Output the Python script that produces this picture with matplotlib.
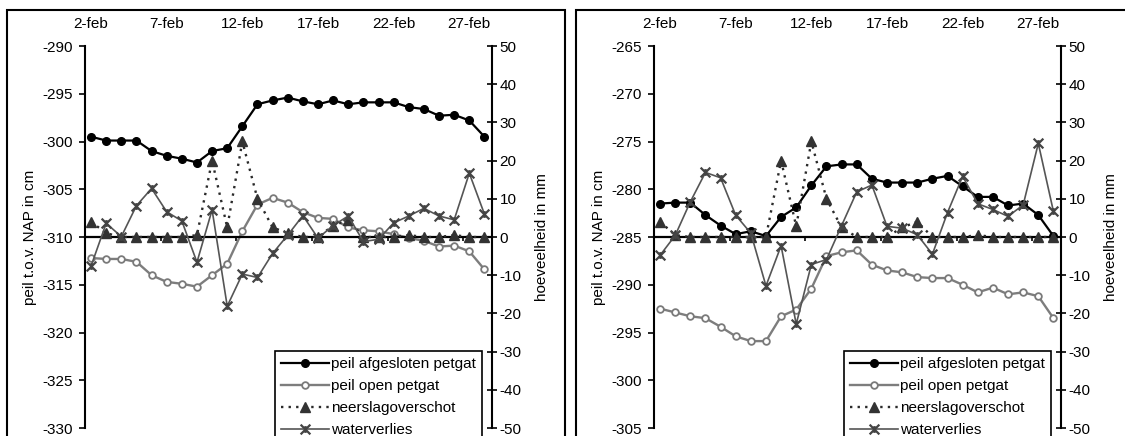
import matplotlib
matplotlib.use('Agg')
import matplotlib.pyplot as plt
from matplotlib.path import Path
from matplotlib.patches import Rectangle

plt.rcParams['font.family'] = ['Liberation Sans', 'DejaVu Sans']
plt.rcParams['font.size'] = 11
plt.rcParams['axes.unicode_minus'] = False

# dagen in februari
days = list(range(2, 29))
date_ticks = [2, 7, 12, 17, 22, 27]
date_labels = ['2-feb', '7-feb', '12-feb', '17-feb', '22-feb', '27-feb']

# linker grafiek (cm en mm)
afgesloten_1 = [-299.5, -299.9, -299.9, -299.9, -301.0, -301.5, -301.8, -302.2, -301.0, -300.7,
                -298.4, -296.1, -295.7, -295.4, -295.8, -296.1, -295.7, -296.1, -295.9, -295.9,
                -295.9, -296.4, -296.6, -297.3, -297.2, -297.8, -299.5]
open_1 = [-312.2, -312.3, -312.3, -312.6, -314.0, -314.7, -314.9, -315.2, -314.0, -312.8,
          -309.4, -306.6, -305.9, -306.4, -307.4, -308.0, -308.1, -309.0, -309.3, -309.4,
          -309.7, -310.1, -310.4, -311.0, -310.9, -311.5, -313.4]
neerslag_1 = [4, 1, 0, 0, 0, 0, 0, 0.5, 20, 2.5, 25, 10, 2.5, 1, 0, 0, 3, 4.5, 0, 0,
              0, 0.5, 0, 0, 0.5, 0, 0]
verlies_1 = [-7.6, 3.6, 0.1, 8.2, 12.7, 6.6, 4.2, -6.6, 7.1, -18.1, -9.7, -10.6, -4.3, 0.5,
             5.6, -0.3, 3.0, 5.5, -1.2, -0.6, 3.7, 5.5, 7.5, 5.5, 4.5, 16.7, 6.0]

# rechter grafiek
afgesloten_2 = [-281.5, -281.4, -281.4, -282.7, -283.8, -284.7, -284.4, -284.9, -282.9, -281.9,
                -279.6, -277.6, -277.4, -277.4, -278.9, -279.3, -279.3, -279.3, -278.9, -278.6,
                -279.7, -280.8, -280.8, -281.7, -281.5, -282.7, -284.9]
open_2 = [-292.5, -292.9, -293.3, -293.5, -294.4, -295.4, -295.9, -295.9, -293.3, -292.6,
          -290.4, -287.0, -286.6, -286.4, -287.9, -288.5, -288.7, -289.2, -289.3, -289.3,
          -290.0, -290.8, -290.3, -291.0, -290.8, -291.2, -293.5]
neerslag_2 = [4, 0.5, 0, 0, 0, 0, 0, 0, 20, 2.8, 25, 10, 2.5, 0, 0, 0, 2.5, 4, 0, 0,
              0, 0.5, 0, 0, 0, 0, 0]
verlies_2 = [-4.8, 0.4, 9.2, 16.9, 15.5, 5.7, 1.0, -12.8, -2.3, -22.8, -7.2, -5.9, 3.0, 11.8,
             13.6, 2.8, 2.3, 0.6, -4.5, 6.4, 15.9, 8.7, 7.2, 5.4, 8.4, 24.5, 6.7]

# sterretje zoals in Excel (kruis met verticaal streepje)
star = Path([(-1, -1), (1, 1), (-1, 1), (1, -1), (0, -0.7), (0, 0.7)],
            [Path.MOVETO, Path.LINETO, Path.MOVETO, Path.LINETO, Path.MOVETO, Path.LINETO])

W, H = 1125, 436
fig = plt.figure(figsize=(W / 100, H / 100), dpi=100)


def panel(x0, afgesloten, open_, neerslag, verlies, ymin, ymax, zero):
    # kader om de grafiek
    fig.add_artist(Rectangle(((x0 - 78) / W, -0.1), 558 / W, 1.1 - 10 / H, transform=fig.transFigure,
                             fill=False, lw=1.5, ec='black'))

    ax = fig.add_axes([x0 / W, 1 - 428 / H, 407 / W, 382 / H])
    ax2 = ax.twinx()

    l1, = ax.plot(days, afgesloten, color='black', lw=1.6, marker='o', ms=5.5,
                  mfc='black', mec='black', label='peil afgesloten petgat')
    l2, = ax.plot(days, open_, color='#7d7d7d', lw=1.7, marker='o', ms=4.8,
                  mfc='white', mec='#7a7a7a', mew=1.3, label='peil open petgat')
    l3, = ax2.plot(days, neerslag, color='#2a2a2a', lw=1.7, ls=(0, (1, 2.2)), marker='^', ms=6.5,
                   mfc='#333333', mec='#333333', label='neerslagoverschot')
    l4, = ax2.plot(days, verlies, color='#555555', lw=1.2, marker=star, ms=7, mfc='none',
                   mec='#444444', mew=1.6, label='waterverlies')

    ax.set_xlim(1.6, 28.5)
    ax.set_ylim(ymin, ymax)
    ax.set_yticks(range(ymin, ymax + 1, 5))
    ax2.set_ylim(-50, 50)
    ax2.set_yticks(range(-50, 51, 10))

    ax.set_xticks(date_ticks)
    ax.set_xticklabels(date_labels)
    ax.set_xticks([6.6, 11.6, 16.6, 21.6, 26.6], minor=True)
    ax.tick_params(axis='x', which='major', bottom=False, top=False, labelbottom=False,
                   labeltop=True, length=0, pad=11)
    ax.tick_params(axis='x', which='minor', bottom=True, top=False, direction='out',
                   length=3, width=1.2)
    ax.tick_params(axis='y', direction='out', length=4.5, width=1.2, pad=4)
    ax2.tick_params(axis='y', direction='inout', length=7, width=1.2, pad=2)

    ax.spines['bottom'].set_position(('data', zero))
    ax.spines['bottom'].set_linewidth(1.6)
    ax.spines['left'].set_linewidth(1.5)
    ax.spines['top'].set_visible(False)
    ax.spines['right'].set_visible(False)
    for s in ['top', 'bottom', 'left']:
        ax2.spines[s].set_visible(False)
    ax2.spines['right'].set_linewidth(1.5)

    fig.text((x0 - 55) / W, 1 - 237 / H, 'peil t.o.v. NAP in cm', rotation=90,
             ha='center', va='center')
    fig.text((x0 + 457) / W, 1 - 237 / H, 'hoeveelheid in mm', rotation=90,
             ha='center', va='center')

    leg = ax2.legend(handles=[l1, l2, l3, l4], loc='upper right', bbox_to_anchor=(0.975, 0.2016),
                     fancybox=False, edgecolor='black', framealpha=1, borderpad=0.4,
                     labelspacing=0.53, handlelength=3.1, handletextpad=0.15, borderaxespad=0,
                     fontsize=11)
    leg.get_frame().set_linewidth(1.2)


panel(85, afgesloten_1, open_1, neerslag_1, verlies_1, -330, -290, -310)
panel(654, afgesloten_2, open_2, neerslag_2, verlies_2, -305, -265, -285)

fig.savefig('out.png', dpi=100)
